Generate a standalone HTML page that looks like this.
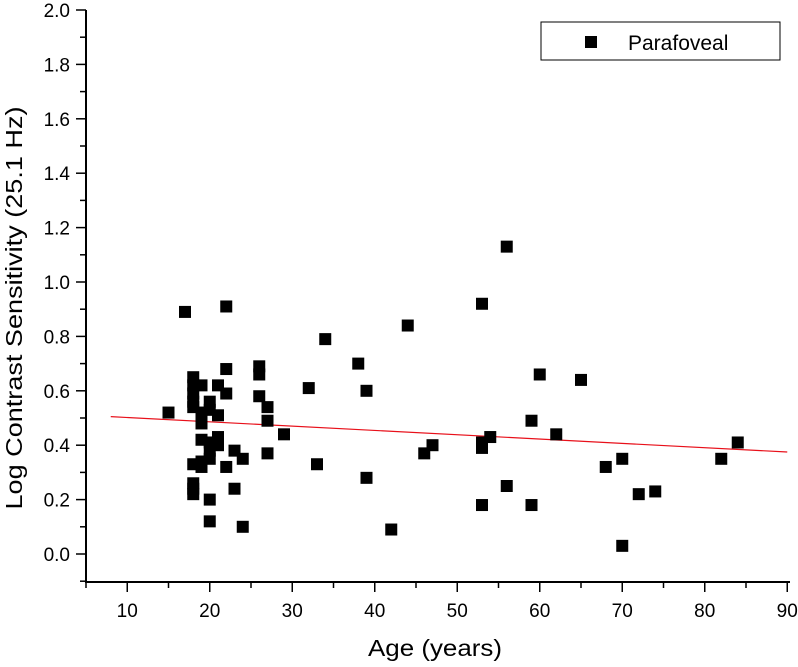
<!DOCTYPE html>
<html><head><meta charset="utf-8"><style>
html,body{margin:0;padding:0;background:#fff;}
svg text{font-family:"Liberation Sans",Arial,sans-serif;fill:#000;}
</style></head><body>
<svg id="chart" width="798" height="662" viewBox="0 0 798 662" xmlns="http://www.w3.org/2000/svg">
<g id="axes"></g>
<g id="marks"></g>
<text x="435" y="656" font-size="23" text-anchor="middle" textLength="134" lengthAdjust="spacingAndGlyphs">Age (years)</text>
<text transform="translate(22,308) rotate(-90)" font-size="23" text-anchor="middle" textLength="403" lengthAdjust="spacingAndGlyphs">Log Contrast Sensitivity (25.1 Hz)</text>
<g>
<rect x="541" y="22" width="239" height="38" fill="#fff" stroke="#000" stroke-width="1"/>
<rect x="585" y="36" width="12" height="12" fill="#000"/>
<text x="628" y="50" font-size="21">Parafoveal</text>
</g>
</svg>
<script>
const ages=[15,17,18,18,18,18,18,18,18,18,18,19,19,19,19,19,19,20,20,20,20,20,20,20,21,21,21,21,22,22,22,22,23,23,24,24,26,26,26,27,27,27,29,32,33,34,38,39,39,42,44,46,47,53,53,53,53,54,56,56,59,59,60,62,65,68,70,70,72,74,82,84];
const sensitivity=[0.52,0.89,0.65,0.62,0.59,0.56,0.54,0.33,0.26,0.24,0.22,0.62,0.52,0.48,0.42,0.32,0.34,0.56,0.53,0.41,0.38,0.35,0.20,0.12,0.62,0.51,0.43,0.40,0.91,0.68,0.59,0.32,0.38,0.24,0.35,0.10,0.69,0.66,0.58,0.54,0.49,0.37,0.44,0.61,0.33,0.79,0.70,0.60,0.28,0.09,0.84,0.37,0.40,0.92,0.41,0.39,0.18,0.43,1.13,0.25,0.49,0.18,0.66,0.44,0.64,0.32,0.35,0.03,0.22,0.23,0.35,0.41];
const fitX=[8,90];
const fitY=[0.505,0.375];
const xTicks=[10,20,30,40,50,60,70,80,90];
const yTicks=[0.0,0.2,0.4,0.6,0.8,1.0,1.2,1.4,1.6,1.8,2.0];
const NS="http://www.w3.org/2000/svg";
const X=v=>86+(v-5)*8.25;
const Y=v=>554-v*272;
const axes=document.getElementById('axes'), marks=document.getElementById('marks');
function mk(tag,attrs,parent){const e=document.createElementNS(NS,tag);for(const k in attrs)e.setAttribute(k,attrs[k]);parent.appendChild(e);return e;}
let e=mk('line',{x1:86,y1:10,x2:86,y2:583,stroke:'#000','stroke-width':2},axes);


e=mk('line',{x1:85,y1:582,x2:790,y2:582,stroke:'#000','stroke-width':2},axes);


xTicks.forEach(t=>{
 const t1=mk('line',{x1:X(t),y1:582,x2:X(t),y2:592,stroke:'#000','stroke-width':1.5},axes);
 
 
 const m=mk('line',{x1:X(t-5),y1:582,x2:X(t-5),y2:588,stroke:'#000','stroke-width':1.5},axes);
 
 
 const l=mk('text',{x:X(t),y:617,'font-size':19,'text-anchor':'middle'},axes);l.textContent=t;
 
 
});
yTicks.forEach(t=>{
 const t1=mk('line',{x1:76,y1:Y(t),x2:86,y2:Y(t),stroke:'#000','stroke-width':1.5},axes);
 
 
 if(t<2){const m=mk('line',{x1:80,y1:Y(t+0.1),x2:86,y2:Y(t+0.1),stroke:'#000','stroke-width':1.5},axes);
 
 }
 const l=mk('text',{x:70,y:Y(t)+7,'font-size':19,'text-anchor':'end'},axes);l.textContent=t.toFixed(1);
 
 
});
const m2=mk('line',{x1:80,y1:Y(-0.1),x2:86,y2:Y(-0.1),stroke:'#000','stroke-width':1.5},axes);


const fit=mk('line',{x1:X(fitX[0]),y1:Y(fitY[0]),x2:X(fitX[1]),y2:Y(fitY[1]),stroke:'#e8101a','stroke-width':1.2},marks);


ages.forEach((a,i)=>{
 const r=mk('rect',{x:X(a)-6,y:Y(sensitivity[i])-6,width:12,height:12,fill:'#000'},marks);
 
 
});
</script>
</body></html>
